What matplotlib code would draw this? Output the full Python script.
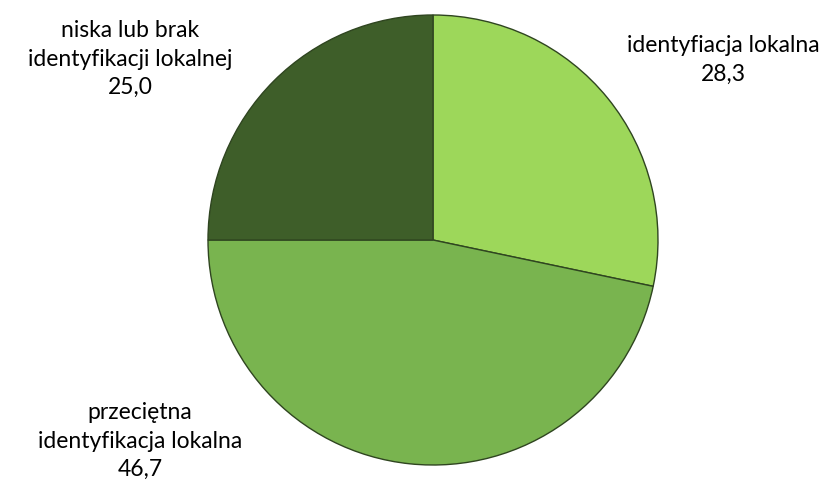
import matplotlib
matplotlib.use("Agg")
import matplotlib.pyplot as plt

labels = ["identyfiacja lokalna", "przeciętna\nidentyfikacja lokalna", "niska lub brak\nidentyfikacji lokalnej"]
values = [28.3, 46.7, 25.0]
value_labels = ["28,3", "46,7", "25,0"]
colors = ["#9dd75a", "#79b44f", "#3e5e29"]

plt.rcParams['font.family'] = ['Lato', 'DejaVu Sans']

W, H = 831, 491
fig = plt.figure(figsize=(W/100, H/100), dpi=100)
cx, cy, r = 433, 240, 225
ax = fig.add_axes([(cx - r)/W, (H - cy - r)/H, 2*r/W, 2*r/H])
ax.pie(values, colors=colors, startangle=90, counterclock=False, radius=1,
       wedgeprops=dict(edgecolor="#2f4520", linewidth=1.0))
ax.set_xlim(-1, 1)
ax.set_ylim(-1, 1)
ax.set_aspect('equal')
ax.axis('off')

pos = [(723, 60), (140, 441), (130, 59)]
for (x, y), lab, v in zip(pos, labels, value_labels):
    fig.text(x/W, 1 - y/H, lab + "\n" + v, ha="center", va="center",
             fontsize=16.5, color="#000000", linespacing=1.45)

fig.savefig("out.png", dpi=100)
